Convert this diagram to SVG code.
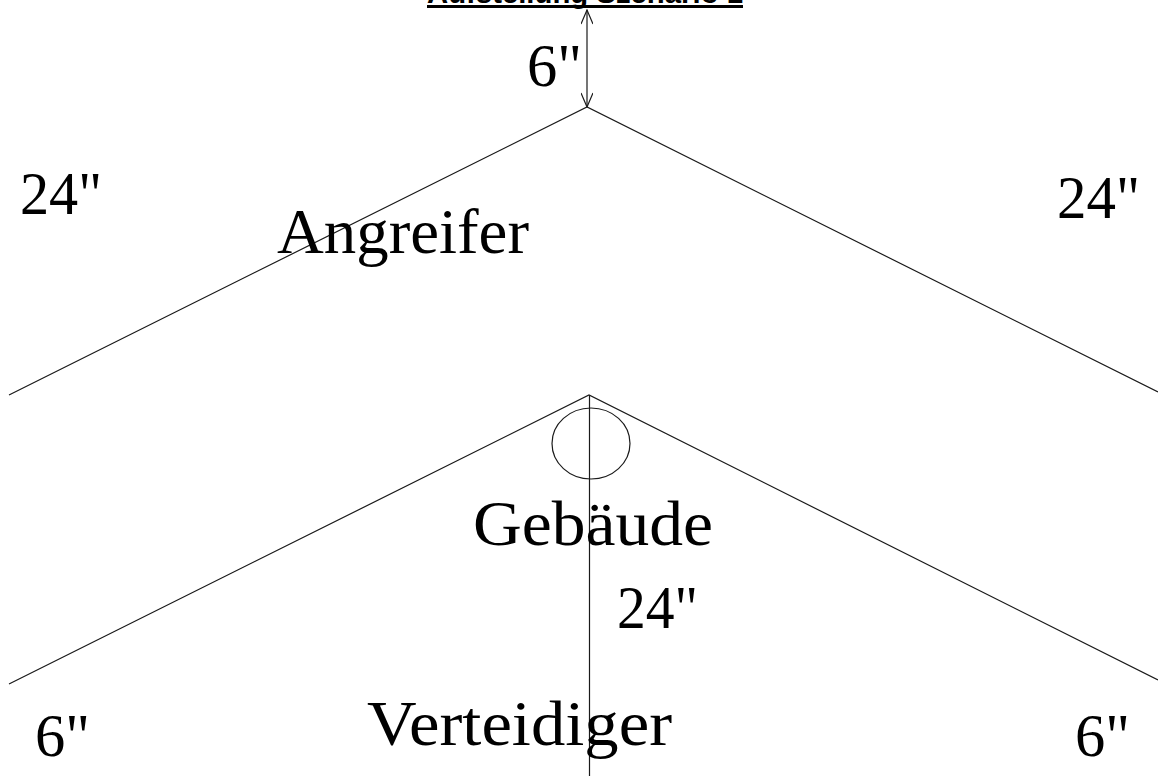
<svg xmlns="http://www.w3.org/2000/svg" width="1158" height="776" viewBox="0 0 1158 776">
  <style>
    .ln { stroke: #1a1a1a; stroke-width: 1.2; fill: none; }
    .lbl { font-family: "Liberation Serif", "DejaVu Serif", serif; fill: #000; }
    .big { font-size: 63px; }
    .num { font-size: 61px; }
    .title { font-family: "Liberation Sans", Arial, sans-serif; font-weight: bold; font-size: 29px; fill: #000; }
  </style>
  <defs>
    <marker id="openArrow" viewBox="0 0 16 12" refX="15" refY="6" markerWidth="16" markerHeight="12" markerUnits="userSpaceOnUse" orient="auto-start-reverse">
      <path d="M1,0 L15,6 L1,12" fill="none" stroke="#1a1a1a" stroke-width="1.2"/>
    </marker>
  </defs>
  <rect width="1158" height="776" fill="#fff"/>

  <g id="title">
    <text class="title" x="585" y="3" text-anchor="middle" textLength="316" lengthAdjust="spacingAndGlyphs">Aufstellung Szenario 1</text>
    <line x1="427" y1="6.5" x2="743" y2="6.5" stroke="#000" stroke-width="3"/>
  </g>

  <g id="connectors">
    <line id="dim-top" class="ln" x1="587" y1="10" x2="587" y2="107" marker-start="url(#openArrow)" marker-end="url(#openArrow)"/>
    <polyline id="attacker-zone" class="ln" points="9,395 587,107 1158,392"/>
    <polyline id="defender-zone" class="ln" points="9,684 589,395 1158,680"/>
    <line id="center-line" class="ln" x1="589.5" y1="395" x2="589.5" y2="776"/>
  </g>

  <g id="building">
    <ellipse cx="591" cy="443.5" rx="39" ry="35.5" class="ln"/>
    <text class="lbl big" x="473" y="545" textLength="240" lengthAdjust="spacingAndGlyphs">Gebäude</text>
  </g>

  <g id="attacker">
    <text class="lbl big" x="277" y="253" textLength="252" lengthAdjust="spacingAndGlyphs">Angreifer</text>
  </g>

  <g id="defender">
    <text class="lbl big" x="367" y="745" textLength="305" lengthAdjust="spacingAndGlyphs">Verteidiger</text>
  </g>

  <g id="dimensions">
    <text class="lbl num" x="527" y="86" textLength="55" lengthAdjust="spacingAndGlyphs">6"</text>
    <text class="lbl num" x="20" y="214" textLength="82" lengthAdjust="spacingAndGlyphs">24"</text>
    <text class="lbl num" x="1057" y="218" textLength="83" lengthAdjust="spacingAndGlyphs">24"</text>
    <text class="lbl num" x="617" y="628" textLength="81" lengthAdjust="spacingAndGlyphs">24"</text>
    <text class="lbl num" x="35" y="756" textLength="55" lengthAdjust="spacingAndGlyphs">6"</text>
    <text class="lbl num" x="1075" y="756" textLength="55" lengthAdjust="spacingAndGlyphs">6"</text>
  </g>
</svg>
